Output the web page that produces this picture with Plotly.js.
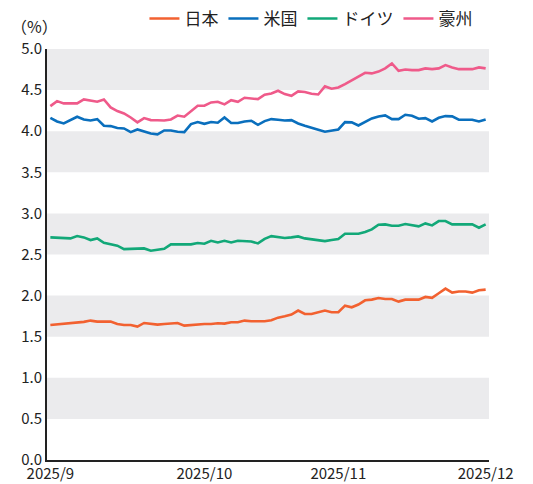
<!DOCTYPE html>
<html>
<head>
<meta charset="utf-8">
<script src="https://cdn.plot.ly/plotly-3.0.1.min.js"></script>
<style>
html,body{margin:0;padding:0;background:#fff;}
#chart{width:533px;height:484px;}
</style>
</head>
<body>
<div id="chart"></div>
<script>
// Tick labels and their positions (observation index)
const tickLabels = ["2025/9", "2025/10", "2025/11", "2025/12"];
const tickIndex = [0, 23, 43, 65];

// Series values (%), one observation per business day
const japan = [1.643,1.651,1.655,1.659,1.667,1.68,1.696,1.684,1.684,1.684,1.655,1.643,1.643,1.623,1.667,1.655,1.647,1.655,1.659,1.667,1.635,1.643,1.647,1.655,1.655,1.663,1.659,1.676,1.676,1.696,1.688,1.688,1.688,1.70,1.732,1.749,1.769,1.818,1.777,1.777,1.797,1.818,1.797,1.797,1.878,1.858,1.891,1.943,1.951,1.97,1.959,1.959,1.927,1.951,1.951,1.951,1.984,1.972,2.028,2.085,2.036,2.049,2.049,2.036,2.065,2.073];
const usa = [4.163,4.119,4.094,4.135,4.176,4.143,4.131,4.147,4.066,4.062,4.038,4.034,3.989,4.021,3.993,3.973,3.961,4.009,4.009,3.993,3.989,4.086,4.111,4.09,4.111,4.103,4.167,4.099,4.099,4.119,4.127,4.078,4.123,4.147,4.139,4.131,4.135,4.094,4.066,4.046,4.017,3.993,4.009,4.021,4.111,4.107,4.07,4.115,4.155,4.18,4.192,4.147,4.147,4.2,4.188,4.151,4.159,4.119,4.163,4.184,4.18,4.139,4.139,4.139,4.119,4.143];
const germany = [2.708,2.704,2.696,2.696,2.724,2.708,2.676,2.696,2.643,2.627,2.607,2.566,2.566,2.574,2.574,2.546,2.558,2.57,2.623,2.623,2.623,2.623,2.639,2.631,2.667,2.647,2.667,2.647,2.667,2.667,2.659,2.635,2.69,2.724,2.712,2.70,2.708,2.72,2.696,2.688,2.676,2.663,2.676,2.688,2.753,2.753,2.753,2.773,2.805,2.862,2.866,2.85,2.85,2.87,2.854,2.842,2.878,2.854,2.907,2.907,2.866,2.866,2.866,2.866,2.826,2.866];
const australia = [4.305,4.366,4.338,4.338,4.338,4.386,4.37,4.358,4.386,4.29,4.245,4.216,4.167,4.107,4.16,4.135,4.133,4.131,4.143,4.19,4.176,4.245,4.31,4.31,4.35,4.358,4.326,4.378,4.358,4.407,4.399,4.39,4.444,4.459,4.492,4.451,4.431,4.484,4.476,4.455,4.447,4.545,4.516,4.532,4.573,4.622,4.662,4.711,4.703,4.725,4.764,4.824,4.735,4.751,4.743,4.743,4.764,4.755,4.764,4.804,4.776,4.755,4.755,4.755,4.776,4.764];

const seriesNames = ["日本", "米国", "ドイツ", "豪州"];
const seriesData = [japan, usa, germany, australia];
const seriesColors = ["#f26130", "#0a6fbd", "#12a878", "#ef5a8a"];

// Shaded horizontal bands (y ranges)
const bandLow = [0.5, 1.5, 2.5, 3.5, 4.5];
const bandHigh = [1.0, 2.0, 3.0, 4.0, 5.0];

const xs = japan.map((_, i) => i);
const FONT = '"Noto Sans CJK JP", "Noto Sans", sans-serif';

const traces = seriesData.map((d, i) => ({
  x: xs, y: d, type: 'scatter', mode: 'lines', name: seriesNames[i],
  line: {color: seriesColors[i], width: 2.6}
}));

const shapes = bandLow.map((lo, i) => ({
  type: 'rect', xref: 'paper', yref: 'y', x0: 0, x1: 1, y0: lo, y1: bandHigh[i],
  fillcolor: '#ebebed', line: {width: 0}, layer: 'below'
}));

const layout = {
  width: 533, height: 484,
  margin: {l: 47, r: 44, t: 49, b: 24, autoexpand: false},
  paper_bgcolor: '#fff', plot_bgcolor: '#fff',
  font: {family: FONT, size: 16, color: '#222'},
  showlegend: true,
  legend: {orientation: 'h', x: 0.271, xanchor: 'left', y: 0.998, yanchor: 'top',
           yref: 'container', xref: 'container',
           font: {family: FONT, size: 17, color: '#222'},
           itemwidth: 30, bgcolor: 'rgba(0,0,0,0)', borderwidth: 0},
  xaxis: {range: [-0.5, 65.5], showgrid: false, zeroline: false, showline: true,
          linecolor: '#222', linewidth: 2, ticks: '', tickvals: tickIndex, ticktext: tickLabels,
          ticklabelstandoff: -1,
          tickfont: {family: FONT, size: 15, color: '#222'}, automargin: false, fixedrange: true},
  yaxis: {range: [0, 5.0], dtick: 0.5, tick0: 0, tickformat: '.1f', showgrid: false, zeroline: false,
          showline: true, linecolor: '#222', linewidth: 2, ticks: '',
          tickfont: {family: FONT, size: 15, color: '#222'}, automargin: false, fixedrange: true},
  shapes: shapes,
  annotations: [{text: '（%）', xref: 'paper', yref: 'paper', x: -0.085, y: 1.055,
                 xanchor: 'left', yanchor: 'middle', showarrow: false,
                 font: {family: FONT, size: 16, color: '#222'}}]
};

Plotly.newPlot('chart', traces, layout, {displayModeBar: false, staticPlot: true});
</script>
</body>
</html>
